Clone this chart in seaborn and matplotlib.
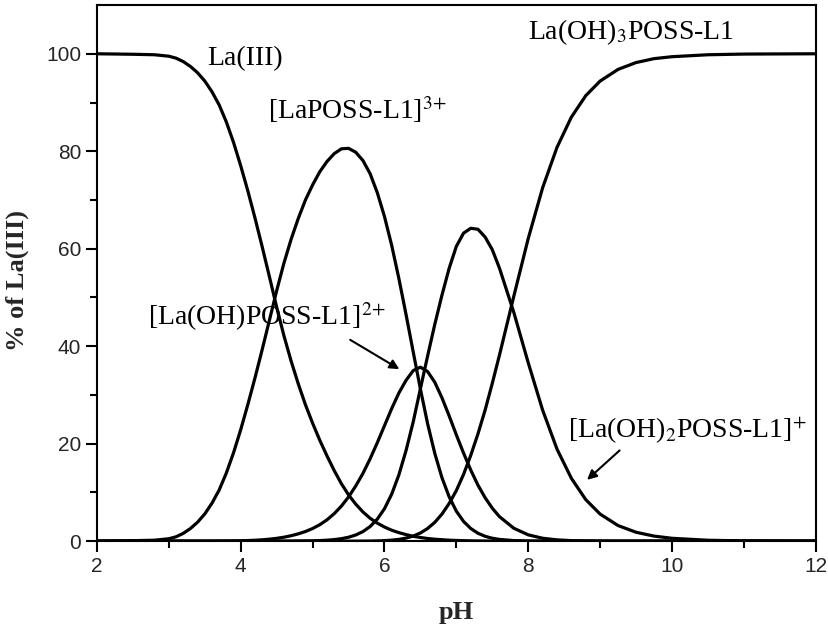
import seaborn as sns
import pandas as pd
import numpy as np
import matplotlib.pyplot as plt

# pH grid
ph = [2.0, 2.5, 2.8, 3.0, 3.1, 3.2, 3.3, 3.4, 3.5, 3.6, 3.7, 3.8, 3.9, 4.0, 4.1,
      4.2, 4.3, 4.4, 4.5, 4.6, 4.7, 4.8, 4.9, 5.0, 5.1, 5.2, 5.3, 5.4, 5.5, 5.6,
      5.7, 5.8, 5.9, 6.0, 6.1, 6.2, 6.3, 6.4, 6.5, 6.6, 6.7, 6.8, 6.9, 7.0, 7.1,
      7.2, 7.3, 7.4, 7.5, 7.6, 7.8, 8.0, 8.2, 8.4, 8.6, 8.8, 9.0, 9.25, 9.5, 9.75,
      10.0, 10.5, 11.0, 12.0]

# % of La(III) for each species
la_free = [100, 99.9, 99.8, 99.5, 99.1, 98.4, 97.4, 96.1, 94.4, 92.2, 89.5, 86.0, 81.8, 77.0, 71.8,
           66.2, 60.3, 54.2, 48.0, 42.2, 37.0, 32.3, 28.0, 24.2, 20.7, 17.5, 14.5, 11.8, 9.5, 7.6,
           6.0, 4.7, 3.7, 2.9, 2.25, 1.75, 1.35, 1.0, 0.75, 0.55, 0.4, 0.3, 0.2, 0.15, 0.1,
           0.07, 0.05, 0.03, 0.02, 0.01, 0, 0, 0, 0, 0, 0, 0, 0, 0, 0,
           0, 0, 0, 0]
la_poss = [0, 0.1, 0.2, 0.5, 0.9, 1.6, 2.6, 3.9, 5.6, 7.8, 10.5, 14.0, 18.15, 22.9, 28.1,
           33.6, 39.4, 45.4, 51.4, 57.0, 61.9, 66.2, 70.0, 73.1, 75.8, 77.9, 79.5, 80.5, 80.6, 79.8,
           78.1, 75.4, 71.5, 66.6, 60.7, 53.9, 46.5, 38.8, 31.2, 24.1, 18.0, 13.0, 9.09, 6.15, 4.05,
           2.6, 1.63, 1.0, 0.6, 0.36, 0.12, 0.04, 0.01, 0, 0, 0, 0, 0, 0, 0,
           0, 0, 0, 0]
la_oh = [0, 0, 0, 0, 0, 0, 0, 0, 0, 0, 0.02, 0.03, 0.05, 0.08, 0.13,
         0.19, 0.28, 0.41, 0.58, 0.81, 1.12, 1.5, 1.98, 2.6, 3.38, 4.38, 5.64, 7.19, 9.08, 11.33,
         13.9, 16.9, 20.2, 23.7, 27.2, 30.4, 33.0, 35.0, 35.7, 34.8, 32.6, 29.4, 25.7, 21.8, 18.07,
         14.6, 11.5, 8.92, 6.76, 5.03, 2.64, 1.3, 0.6, 0.27, 0.11, 0.05, 0.02, 0, 0, 0,
         0, 0, 0, 0]
la_oh2 = [0, 0, 0, 0, 0, 0, 0, 0, 0, 0, 0, 0, 0, 0, 0,
          0, 0, 0, 0, 0, 0.01, 0.03, 0.05, 0.07, 0.12, 0.2, 0.32, 0.51, 0.81, 1.27,
          1.97, 3.0, 4.52, 6.67, 9.64, 13.6, 18.6, 24.5, 31.3, 38.0, 44.5, 50.5, 56.0, 60.5, 63.2,
          64.2, 64.0, 62.4, 59.8, 56.0, 46.9, 36.6, 26.9, 18.9, 12.9, 8.53, 5.56, 3.2, 1.83, 1.04,
          0.59, 0.19, 0.06, 0]
la_oh3 = [0, 0, 0, 0, 0, 0, 0, 0, 0, 0, 0, 0, 0, 0, 0,
          0, 0, 0, 0, 0, 0, 0, 0, 0, 0, 0, 0, 0, 0, 0.01,
          0.02, 0.03, 0.06, 0.11, 0.21, 0.37, 0.63, 1.05, 1.68, 2.6, 3.87, 5.57, 7.74, 10.4, 13.7,
          17.6, 22.0, 26.9, 32.4, 38.2, 50.3, 62.1, 72.5, 80.8, 87.0, 91.4, 94.4, 96.8, 98.2, 99.0,
          99.4, 99.8, 99.94, 100]

species = ['La(III)', 'LaPOSS', 'LaOHPOSS', 'LaOH2POSS', 'LaOH3POSS']
df = pd.DataFrame({'pH': ph * 5,
                   'pct': la_free + la_poss + la_oh + la_oh2 + la_oh3,
                   'species': np.repeat(species, len(ph))})

sns.set_style("ticks")
plt.rcParams['font.family'] = ['Liberation Sans', 'DejaVu Sans']
plt.rcParams['mathtext.fontset'] = 'stix'
plt.rcParams['xtick.direction'] = 'out'
plt.rcParams['ytick.direction'] = 'out'

fig, ax = plt.subplots(figsize=(8.29, 6.3), dpi=100)
fig.subplots_adjust(left=0.117, right=0.984, top=0.992, bottom=0.141)

for sp in species:
    sub = df[df['species'] == sp]
    sns.lineplot(ax=ax, data=sub, x='pH', y='pct', color='black', lw=2.3, sort=False)

ax.set_xlim(2, 12)
ax.set_ylim(0, 110)
ax.set_xticks([2, 4, 6, 8, 10, 12])
ax.set_xticks([3, 5, 7, 9, 11], minor=True)
ax.set_yticks([0, 20, 40, 60, 80, 100])
ax.set_yticks([10, 30, 50, 70, 90], minor=True)
ax.tick_params(which='major', length=8, width=1.5, labelsize=15, color='black')
ax.tick_params(which='minor', length=5, width=1.5, color='black')
for s in ax.spines.values():
    s.set_linewidth(1.5)
    s.set_color('black')

ax.set_xlabel('pH', family='Liberation Serif', fontweight='bold', fontsize=19, labelpad=18)
ax.set_ylabel('% of La(III)', family='Liberation Serif', fontweight='bold', fontsize=19)
ax.yaxis.set_label_coords(-0.094, 0.486)

lbl = dict(family='Liberation Serif', fontsize=20, color='black', va='baseline', ha='left')
ax.text(3.53, 97.6, 'La(III)', **lbl)
ax.text(4.38, 86.7, r'[LaPOSS-L1]$^{3\!+}$', **lbl)
ax.text(8.0, 103.1, r'La(OH)$_3$POSS-L1', **lbl)
ax.text(2.71, 44.4, r'[La(OH)POSS-L1]$^{2\!+}$', **lbl)
ax.text(8.56, 21.2, r'[La(OH)$_2$POSS-L1]$^{+}$', **lbl)

arrow = dict(arrowstyle='-|>', color='black', lw=1.5, mutation_scale=14)
ax.annotate('', xy=(6.24, 35.0), xytext=(5.49, 41.6), arrowprops=arrow)
ax.annotate('', xy=(8.79, 12.2), xytext=(9.30, 19.0), arrowprops=arrow)

fig.savefig('out.png', dpi=100)
